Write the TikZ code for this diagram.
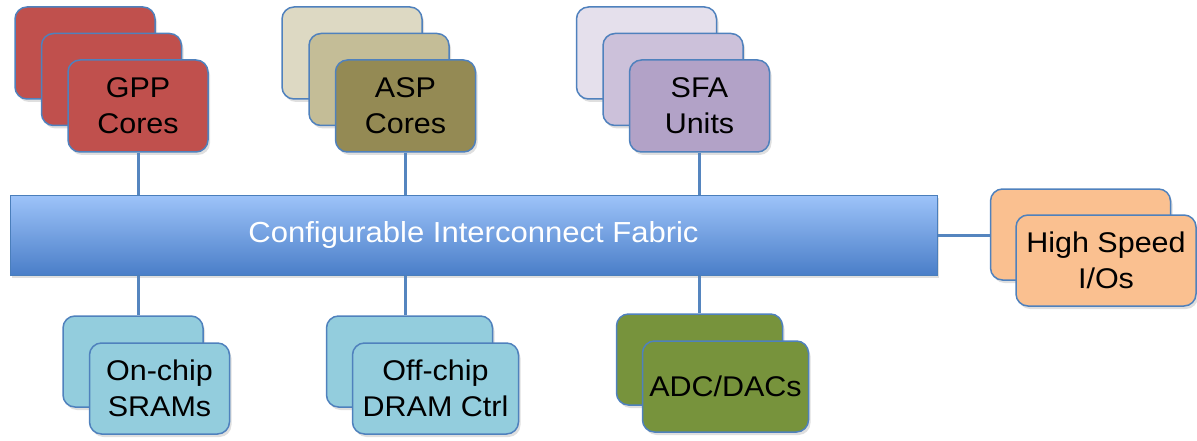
\documentclass[tikz,border=0pt]{standalone}
\usepackage{fontspec}
\setmainfont{Liberation Sans}[FakeStretch=1.07]
\usetikzlibrary{shadows,calc,positioning}

\definecolor{boxline}{HTML}{4F81BD}
\definecolor{linkblue}{HTML}{5585BF}
\definecolor{gppred}{HTML}{C0504D}
\definecolor{aspA}{HTML}{DDD9C3}
\definecolor{aspB}{HTML}{C4BD97}
\definecolor{aspC}{HTML}{948A54}
\definecolor{sfaA}{HTML}{E5E0EC}
\definecolor{sfaB}{HTML}{CCC1DA}
\definecolor{sfaC}{HTML}{B2A2C7}
\definecolor{hsiofill}{HTML}{FAC090}
\definecolor{memfill}{HTML}{93CDDD}
\definecolor{adcfill}{HTML}{77933C}
\definecolor{fabrictop}{HTML}{9DC3F9}
\definecolor{fabricbot}{HTML}{4A7EC8}
\definecolor{fabricline}{HTML}{4A7EBB}

\tikzset{
  unit/.style={draw=boxline, line width=1.5pt, rounded corners=12pt,
    inner sep=0pt, align=center, minimum width=140pt, minimum height=92pt,
    font=\fontsize{28.5}{36}\selectfont,
    drop shadow={shadow xshift=2pt, shadow yshift=-3pt, opacity=0.25}},
  wideunit/.style={unit, minimum width=166pt, minimum height=91pt},
  fabric/.style={draw=fabricline, line width=1pt, top color=fabrictop,
    bottom color=fabricbot, minimum width=927pt, minimum height=80pt,
    inner sep=0pt, text=white, font=\fontsize{29}{36}\selectfont,
    drop shadow={shadow xshift=2pt, shadow yshift=-3pt, opacity=0.25}},
  link/.style={draw=linkblue, line width=3pt}
}

\begin{document}
\begin{tikzpicture}[x=1pt,y=-1pt]
  \useasboundingbox (0,0) rectangle (1197,441);

  %% stacked units above the fabric
  \node[unit, fill=gppred] (gppA) at (85,53) {};
  \node[unit, fill=gppred] (gppB) at (111.5,79.5) {};
  \node[unit, fill=gppred] (gpp) at (138,106) {GPP\\Cores};

  \node[unit, fill=aspA] (aspA) at (352,53) {};
  \node[unit, fill=aspB] (aspB) at (379,79.5) {};
  \node[unit, fill=aspC] (asp) at (405.5,106) {ASP\\Cores};

  \node[unit, fill=sfaA] (sfaA) at (646.5,53) {};
  \node[unit, fill=sfaB] (sfaB) at (673,79.5) {};
  \node[unit, fill=sfaC] (sfa) at (699.5,106) {SFA\\Units};

  %% the bus itself
  \node[fabric] (fabric) at (473.5,235) {Configurable Interconnect Fabric};

  %% side and bottom units
  \node[unit, fill=hsiofill, minimum width=180pt, minimum height=91pt]
    (hsioA) at (1080.5,234.5) {};
  \node[unit, fill=hsiofill, minimum width=180pt, minimum height=91pt]
    (hsio) at (1106,260.5) {High Speed\\I/Os};

  \node[unit, fill=memfill, minimum height=91pt] (sramA) at (133,361.5) {};
  \node[unit, fill=memfill, minimum height=91pt] (sram) at (159.5,388.5) {On-chip\\SRAMs};

  \node[wideunit, fill=memfill] (dramA) at (409.5,361.5) {};
  \node[wideunit, fill=memfill] (dram) at (435.5,388.5) {Off-chip\\DRAM Ctrl};

  \node[wideunit, fill=adcfill] (adcA) at (699.5,359.5) {};
  \node[wideunit, fill=adcfill] (adc) at (725.5,386.5) {ADC/DACs};

  %% links to the fabric
  \path[link] (gpp.south) -- (gpp.south |- fabric.north);
  \path[link] (asp.south) -- (asp.south |- fabric.north);
  \path[link] (sfa.south) -- (sfa.south |- fabric.north);
  \path[link] (gpp.south |- fabric.south) -- (gpp.south |- sramA.north);
  \path[link] (asp.south |- fabric.south) -- (asp.south |- dramA.north);
  \path[link] (sfa.south |- fabric.south) -- (sfa.south |- adcA.north);
  \path[link] (fabric.east) -- (fabric.east -| hsioA.west);

\end{tikzpicture}
\end{document}
